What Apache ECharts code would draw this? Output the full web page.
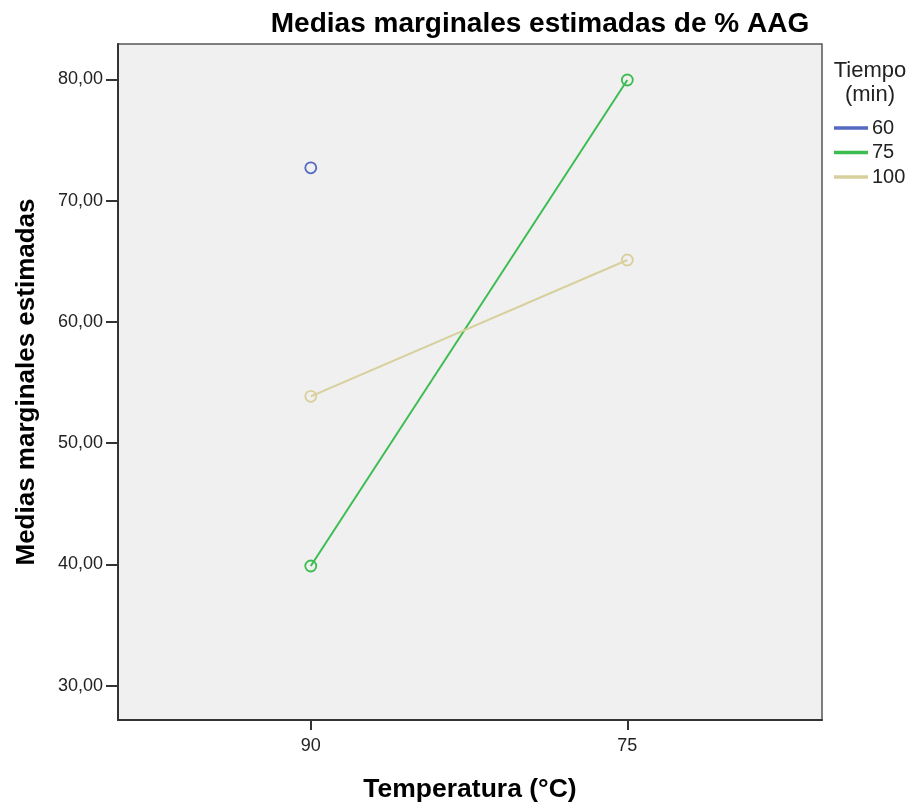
<!DOCTYPE html>
<html>
<head>
<meta charset="utf-8">
<script src="https://cdn.jsdelivr.net/npm/echarts@6/dist/echarts.min.js"></script>
<style>
  html, body { margin: 0; padding: 0; background: #ffffff; }
  #chart { width: 910px; height: 805px; }
</style>
</head>
<body>
<div id="chart"></div>
<script>
// Temperature levels (°C) along the x axis, in plotted order
const temperaturas = ['90', '75'];
// Estimated marginal means of % AAG for each time level (min)
const tiempos = ['60', '75', '100'];
const medias60 = [72.7, null];
const medias75 = [39.87, 79.94];
const medias100 = [53.86, 65.1];
const ticksY = [30, 40, 50, 60, 70, 80];

const colores = ['#5468c4', '#3dbd51', '#d8d09c'];
const fuente = '"Liberation Sans", Arial, sans-serif';

const valores = [medias60, medias75, medias100];
const series = tiempos.map((t, k) => ({
  name: t,
  type: 'line',
  data: valores[k].map((v, i) => [i, v]),
  connectNulls: false,
  symbol: 'circle',
  symbolSize: 11,
  showAllSymbol: true,
  lineStyle: { width: 2, color: colores[k] },
  itemStyle: { color: 'rgba(0,0,0,0)', borderColor: colores[k], borderWidth: 1.8 },
  emphasis: { disabled: true },
  z: 3 + k
}));

const chart = echarts.init(document.getElementById('chart'), null, { renderer: 'canvas' });
chart.setOption({
  animation: false,
  backgroundColor: '#ffffff',
  title: [
    {
      text: 'Medias marginales estimadas de % AAG',
      left: 535, top: 5, textAlign: 'center',
      textStyle: { fontFamily: fuente, fontWeight: 'bold', fontSize: 28, color: '#000' }
    },
    {
      text: 'Tiempo\n(min)',
      left: 865, top: 54, textAlign: 'center',
      textStyle: { fontFamily: fuente, fontWeight: 'normal', fontSize: 22, lineHeight: 24, color: '#222' }
    }
  ],
  legend: {
    orient: 'vertical',
    left: 829, top: 113,
    itemWidth: 32, itemHeight: 1.5, itemGap: 4.5,
    icon: 'rect',
    data: tiempos.map((t, k) => ({ name: t, itemStyle: { color: colores[k] } })),
    textStyle: { fontFamily: fuente, fontSize: 20, lineHeight: 20, color: '#222' },
    selectedMode: false
  },
  grid: {
    left: 118, right: 88, top: 44, bottom: 85,
    outerBoundsMode: 'none',
    show: true, backgroundColor: '#f0f0f0', borderColor: '#555', borderWidth: 1.5
  },
  xAxis: {
    type: 'value',
    min: -0.609, max: 1.615,
    name: 'Temperatura (°C)',
    nameLocation: 'middle', nameGap: 56,
    nameTextStyle: { fontFamily: fuente, fontWeight: 'bold', fontSize: 26.5, color: '#000' },
    axisLine: { show: true, onZero: false, lineStyle: { color: '#333', width: 2 } },
    axisTick: { show: true, customValues: [0, 1], length: 10, lineStyle: { color: '#333', width: 2 } },
    axisLabel: {
      customValues: [0, 1],
      formatter: v => temperaturas[Math.round(v)] ?? '',
      fontFamily: fuente, fontSize: 18, color: '#222', margin: 17
    },
    splitLine: { show: false }
  },
  yAxis: {
    type: 'value',
    min: 27.17, max: 82.91,
    name: 'Medias marginales estimadas',
    nameLocation: 'middle', nameGap: 78,
    nameTextStyle: { fontFamily: fuente, fontWeight: 'bold', fontSize: 26, color: '#000' },
    axisLine: { show: true, onZero: false, lineStyle: { color: '#333', width: 2 } },
    axisTick: { show: true, customValues: ticksY, length: 12, lineStyle: { color: '#333', width: 2 } },
    axisLabel: {
      customValues: ticksY,
      formatter: v => v.toFixed(2).replace('.', ','),
      fontFamily: fuente, fontSize: 18, color: '#222', margin: 15
    },
    splitLine: { show: false }
  },
  series: series
});
</script>
</body>
</html>
